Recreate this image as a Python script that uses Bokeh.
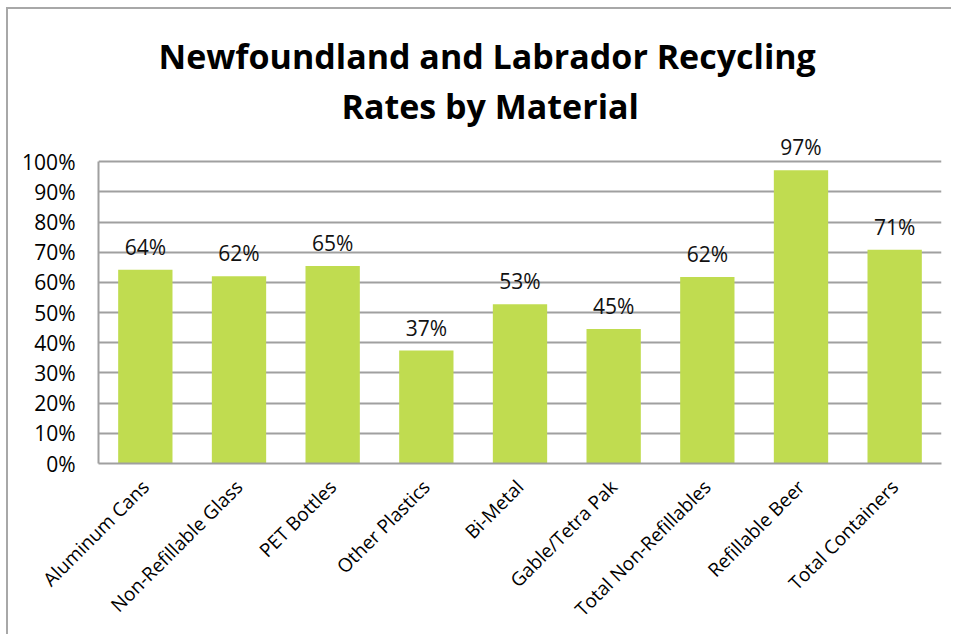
from math import pi
from bokeh.plotting import figure
from bokeh.models import (ColumnDataSource, LabelSet, FactorRange, Range1d, FixedTicker,
                          CustomJSTickFormatter, Title)
from bokeh.core.properties import value
from bokeh.embed import file_html
from bokeh.resources import INLINE

categories = ["Aluminum Cans", "Non-Refillable Glass", "PET Bottles", "Other Plastics",
              "Bi-Metal", "Gable/Tetra Pak", "Total Non-Refillables", "Refillable Beer",
              "Total Containers"]
rates = [64.2, 62.0, 65.4, 37.4, 52.8, 44.6, 61.8, 97.2, 70.8]
rate_labels = ["64%", "62%", "65%", "37%", "53%", "45%", "62%", "97%", "71%"]
y_ticks = [0, 10, 20, 30, 40, 50, 60, 70, 80, 90, 100]

FONT = "Open Sans"
GRID = "#a0a0a0"

src = ColumnDataSource(dict(cat=categories, rate=rates, lab=rate_labels))

p = figure(x_range=FactorRange(*categories), y_range=Range1d(0, 110),
           width=945, height=627, output_backend="svg", toolbar_location=None,
           min_border_left=90, min_border_right=12, min_border_top=122, min_border_bottom=173)
p.title = None
p.margin = (7, 0, 0, 6)
p.styles = {"border-left": "2px solid #a8a8a8", "border-top": "2px solid #a8a8a8"}

t2 = Title(text="Rates by Material", align="left", offset=243, standoff=5,
           text_font=FONT, text_font_size="34px", text_font_style="bold", text_color="black")
t1 = Title(text="Newfoundland and Labrador Recycling", align="left", offset=60, standoff=0,
           text_font=FONT, text_font_size="34px", text_font_style="bold", text_color="black")
p.add_layout(t2, "above")
p.add_layout(t1, "above")

p.vbar(x="cat", top="rate", width=0.58, source=src, fill_color="#c0dc50", line_color=None)

labels = LabelSet(x="cat", y="rate", text="lab", source=src, y_offset=9,
                  text_align="center", text_baseline="bottom",
                  text_font=value(FONT), text_font_size=value("21px"), text_color="#111111")
p.add_layout(labels)

p.outline_line_color = None
p.xgrid.grid_line_color = None
p.ygrid.grid_line_color = GRID
p.ygrid.grid_line_width = 2
p.ygrid.ticker = FixedTicker(ticks=y_ticks)

p.yaxis.ticker = FixedTicker(ticks=y_ticks)
p.yaxis.bounds = (0, 100)
p.yaxis.formatter = CustomJSTickFormatter(code="return tick + '%';")
p.yaxis.axis_line_color = GRID
p.yaxis.axis_line_width = 2
p.yaxis.major_tick_line_color = None
p.yaxis.minor_tick_line_color = None
p.yaxis.major_label_text_font = FONT
p.yaxis.major_label_text_font_size = "21px"
p.yaxis.major_label_text_color = "black"
p.yaxis.major_label_standoff = 17

p.xaxis.axis_line_color = GRID
p.xaxis.axis_line_width = 2
p.xaxis.major_tick_line_color = None
p.xaxis.major_label_orientation = pi / 4
p.xaxis.major_label_text_font = FONT
p.xaxis.major_label_text_font_size = "19px"
p.xaxis.major_label_text_color = "black"
p.xaxis.major_label_standoff = 14

open("out.html", "w").write(file_html(p, INLINE))
